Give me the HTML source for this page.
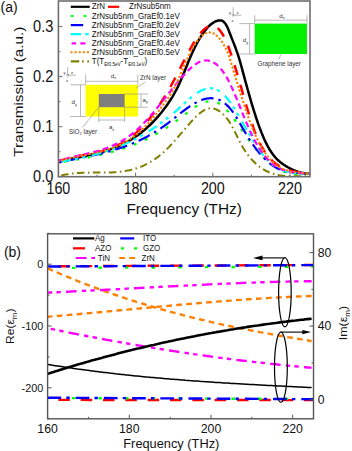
<!DOCTYPE html><html><head><meta charset="utf-8"><style>html,body{margin:0;padding:0;background:#fff;width:352px;height:451px;overflow:hidden;position:relative}</style></head><body><svg width="352" height="451" viewBox="0 0 352 451" style="position:absolute;left:0;top:0">
<rect width="352" height="451" fill="#fff"/>
<defs><clipPath id="ca"><rect x="58.4" y="1.0" width="251.6" height="175.7"/></clipPath>
<clipPath id="cb"><rect x="48" y="233.5" width="265.5" height="185.2"/></clipPath></defs>
<g>
<rect x="85.5" y="84.8" width="52.5" height="31.7" fill="#ffff00"/>
<rect x="98.8" y="94.0" width="25.8" height="13.2" fill="#7f7f7f"/>
<path d="M85.6,84.8 V74.6 M137.8,84.8 V74.6 M85.6,81.3 H137.8" stroke="#8a8a8a" stroke-width="0.6" fill="none"/>
<path d="M85.5,116.5 H70.2 M85.5,84.8 H70.2 M80.5,84.8 V116.5" stroke="#8a8a8a" stroke-width="0.6" fill="none"/>
<path d="M124.6,107.2 H147.8 M124.6,94 H147.8 M141,94 V107.2" stroke="#8a8a8a" stroke-width="0.6" fill="none"/>
<path d="M98.8,107.2 V122 M124.6,107.2 V122 M98.8,120 H124.6" stroke="#8a8a8a" stroke-width="0.6" fill="none"/>
<path d="M145.6,81.9 L135.9,88.2 M82.7,127.3 L99,106.8" stroke="#8a8a8a" stroke-width="0.6" fill="none"/>
<text x="110.8" y="77.6" font-family='"Liberation Sans", sans-serif' font-size="6.2" fill="#333">d<tspan font-size="3.8" dy="1.3">x</tspan></text>
<text x="71.6" y="104.2" font-family='"Liberation Sans", sans-serif' font-size="6.2" fill="#333">d<tspan font-size="3.8" dy="1.3">y</tspan></text>
<text x="142.6" y="101.9" font-family='"Liberation Sans", sans-serif' font-size="6.2" fill="#333">a<tspan font-size="3.8" dy="1.3">y</tspan></text>
<text x="108.9" y="129.4" font-family='"Liberation Sans", sans-serif' font-size="6.2" fill="#333">a<tspan font-size="3.8" dy="1.3">x</tspan></text>
<text x="139.9" y="79.8" font-family='"Liberation Sans", sans-serif' font-size="6.4" fill="#333">ZrN layer</text>
<text x="69" y="133.6" font-family='"Liberation Sans", sans-serif' font-size="6.3" fill="#333">SiO<tspan font-size="4" dy="1.3">2</tspan><tspan dy="-1.3"> layer</tspan></text>
<path d="M67.7,75.2 V67.2 M67.7,75.2 H75.7" stroke="#666" stroke-width="0.5" fill="none"/>
<circle cx="67.7" cy="75.2" r="1.1" stroke="#666" stroke-width="0.4" fill="none"/>
<text x="63.400000000000006" y="74.0" font-family='"Liberation Sans", sans-serif' font-size="4.2" fill="#333">y</text>
<text x="71.0" y="74.0" font-family='"Liberation Sans", sans-serif' font-size="4.2" fill="#333">x</text>
<text x="65.9" y="81.7" font-family='"Liberation Sans", sans-serif' font-size="4.2" fill="#333">z</text>
</g>
<rect x="254.7" y="23.6" width="52.3" height="30.4" fill="#00f000"/>
<path d="M254.7,23.6 V15.1 M307,23.6 V15.1 M254.7,20.2 H307" stroke="#8a8a8a" stroke-width="0.6" fill="none"/>
<path d="M254.7,23.6 H239.4 M254.7,54 H239.4 M249.6,23.6 V54" stroke="#8a8a8a" stroke-width="0.6" fill="none"/>
<path d="M281.1,54.6 L278.6,59.4" stroke="#8a8a8a" stroke-width="0.6" fill="none"/>
<text x="279.3" y="17.6" font-family='"Liberation Sans", sans-serif' font-size="6.2" fill="#333">d<tspan font-size="3.8" dy="1.3">x</tspan></text>
<text x="242.8" y="42.2" font-family='"Liberation Sans", sans-serif' font-size="6.2" fill="#333">d<tspan font-size="3.8" dy="1.3">y</tspan></text>
<text x="257.5" y="66.4" font-family='"Liberation Sans", sans-serif' font-size="6.3" fill="#333">Graphene layer</text>
<path d="M233.2,15.2 V7.199999999999999 M233.2,15.2 H241.2" stroke="#666" stroke-width="0.5" fill="none"/>
<circle cx="233.2" cy="15.2" r="1.1" stroke="#666" stroke-width="0.4" fill="none"/>
<text x="228.89999999999998" y="14.0" font-family='"Liberation Sans", sans-serif' font-size="4.2" fill="#333">y</text>
<text x="236.5" y="14.0" font-family='"Liberation Sans", sans-serif' font-size="4.2" fill="#333">x</text>
<text x="231.39999999999998" y="21.7" font-family='"Liberation Sans", sans-serif' font-size="4.2" fill="#333">z</text>
<g clip-path="url(#ca)" fill="none" stroke-linecap="butt">
<path d="M58.4,161.9 L59.4,161.7 L60.4,161.4 L61.4,161.1 L62.4,160.9 L63.4,160.6 L64.4,160.4 L65.4,160.2 L66.4,159.9 L67.4,159.7 L68.4,159.5 L69.4,159.3 L70.4,159.0 L71.4,158.8 L72.4,158.6 L73.4,158.4 L74.4,158.2 L75.4,158.0 L76.4,157.8 L77.4,157.6 L78.4,157.4 L79.4,157.2 L80.4,157.0 L81.4,156.8 L82.4,156.6 L83.4,156.3 L84.4,156.1 L85.4,155.9 L86.4,155.7 L87.4,155.5 L88.4,155.3 L89.4,155.1 L90.4,154.8 L91.4,154.6 L92.4,154.4 L93.4,154.2 L94.4,153.9 L95.4,153.7 L96.4,153.4 L97.4,153.2 L98.4,152.9 L99.4,152.7 L100.4,152.4 L101.4,152.1 L102.4,151.8 L103.4,151.5 L104.4,151.2 L105.4,150.9 L106.4,150.6 L107.4,150.3 L108.4,150.0 L109.4,149.6 L110.4,149.3 L111.4,148.9 L112.4,148.6 L113.4,148.2 L114.4,147.8 L115.4,147.4 L116.4,147.0 L117.4,146.6 L118.4,146.1 L119.4,145.7 L120.4,145.3 L121.4,144.8 L122.4,144.3 L123.4,143.8 L124.4,143.3 L125.4,142.8 L126.4,142.3 L127.4,141.7 L128.4,141.1 L129.4,140.6 L130.4,140.0 L131.4,139.4 L132.4,138.8 L133.4,138.1 L134.4,137.5 L135.4,136.8 L136.4,136.1 L137.4,135.4 L138.4,134.7 L139.4,133.9 L140.4,133.2 L141.4,132.4 L142.4,131.6 L143.4,130.8 L144.4,130.0 L145.4,129.1 L146.4,128.2 L147.4,127.3 L148.4,126.4 L149.4,125.5 L150.4,124.5 L151.4,123.5 L152.4,122.5 L153.4,121.5 L154.4,120.5 L155.4,119.4 L156.4,118.3 L157.4,117.2 L158.4,116.1 L159.4,114.9 L160.4,113.7 L161.4,112.5 L162.4,111.2 L163.4,109.9 L164.4,108.6 L165.4,107.3 L166.4,105.9 L167.4,104.5 L168.4,103.0 L169.4,101.5 L170.4,100.0 L171.4,98.4 L172.4,96.8 L173.4,95.1 L174.4,93.4 L175.4,91.5 L176.4,89.7 L177.4,87.7 L178.4,85.7 L179.4,83.6 L180.4,81.3 L181.4,79.0 L182.4,76.7 L183.4,74.2 L184.4,71.8 L185.4,69.3 L186.4,66.8 L187.4,64.3 L188.4,61.8 L189.4,59.4 L190.4,57.1 L191.4,54.8 L192.4,52.5 L193.4,50.4 L194.4,48.3 L195.4,46.3 L196.4,44.3 L197.4,42.4 L198.4,40.6 L199.4,38.9 L200.4,37.3 L201.4,35.7 L202.4,34.2 L203.4,32.7 L204.4,31.4 L205.4,30.1 L206.4,28.9 L207.4,27.7 L208.4,26.7 L209.4,25.7 L210.4,24.8 L211.4,24.0 L212.4,23.2 L213.4,22.6 L214.4,22.0 L215.4,21.5 L216.4,21.1 L217.4,20.8 L218.4,20.5 L219.4,20.4 L220.4,20.4 L221.4,20.5 L222.4,20.9 L223.4,21.6 L224.4,22.5 L225.4,23.7 L226.4,25.3 L227.4,27.2 L228.4,29.6 L229.4,32.2 L230.4,34.8 L231.4,37.4 L232.4,39.9 L233.4,42.4 L234.4,45.0 L235.4,47.5 L236.4,50.3 L237.4,53.1 L238.4,56.2 L239.4,59.4 L240.4,62.9 L241.4,66.5 L242.4,70.1 L243.4,73.9 L244.4,77.6 L245.4,81.3 L246.4,84.9 L247.4,88.5 L248.4,92.1 L249.4,95.6 L250.4,99.1 L251.4,102.6 L252.4,105.9 L253.4,109.2 L254.4,112.4 L255.4,115.5 L256.4,118.6 L257.4,121.5 L258.4,124.4 L259.4,127.1 L260.4,129.8 L261.4,132.4 L262.4,134.8 L263.4,137.2 L264.4,139.5 L265.4,141.6 L266.4,143.7 L267.4,145.6 L268.4,147.5 L269.4,149.2 L270.4,150.8 L271.4,152.3 L272.4,153.7 L273.4,155.1 L274.4,156.3 L275.4,157.5 L276.4,158.6 L277.4,159.6 L278.4,160.5 L279.4,161.4 L280.4,162.3 L281.4,163.0 L282.4,163.8 L283.4,164.5 L284.4,165.1 L285.4,165.8 L286.4,166.4 L287.4,167.0 L288.4,167.5 L289.4,168.1 L290.4,168.6 L291.4,169.1 L292.4,169.6 L293.4,170.0 L294.4,170.5 L295.4,170.9 L296.4,171.3 L297.4,171.6 L298.4,172.0 L299.4,172.3 L300.4,172.5 L301.4,172.8 L302.4,173.0 L303.4,173.1 L304.4,173.3 L305.4,173.4 L306.4,173.4 L307.4,173.4 L308.4,173.4 L309.4,173.4" stroke="#000" stroke-width="2.5"/>
<path d="M58.4,161.3 L59.4,161.0 L60.4,160.7 L61.4,160.3 L62.4,160.0 L63.4,159.7 L64.4,159.5 L65.4,159.2 L66.4,158.9 L67.4,158.7 L68.4,158.4 L69.4,158.2 L70.4,157.9 L71.4,157.7 L72.4,157.5 L73.4,157.3 L74.4,157.0 L75.4,156.8 L76.4,156.6 L77.4,156.4 L78.4,156.2 L79.4,156.0 L80.4,155.8 L81.4,155.6 L82.4,155.4 L83.4,155.2 L84.4,155.0 L85.4,154.8 L86.4,154.6 L87.4,154.5 L88.4,154.3 L89.4,154.0 L90.4,153.8 L91.4,153.6 L92.4,153.4 L93.4,153.2 L94.4,153.0 L95.4,152.8 L96.4,152.5 L97.4,152.3 L98.4,152.0 L99.4,151.8 L100.4,151.5 L101.4,151.2 L102.4,151.0 L103.4,150.7 L104.4,150.4 L105.4,150.1 L106.4,149.7 L107.4,149.4 L108.4,149.1 L109.4,148.7 L110.4,148.3 L111.4,147.9 L112.4,147.5 L113.4,147.1 L114.4,146.7 L115.4,146.3 L116.4,145.8 L117.4,145.3 L118.4,144.8 L119.4,144.3 L120.4,143.8 L121.4,143.3 L122.4,142.7 L123.4,142.1 L124.4,141.5 L125.4,140.9 L126.4,140.3 L127.4,139.6 L128.4,138.9 L129.4,138.2 L130.4,137.5 L131.4,136.7 L132.4,135.9 L133.4,135.1 L134.4,134.3 L135.4,133.5 L136.4,132.6 L137.4,131.7 L138.4,130.7 L139.4,129.8 L140.4,128.8 L141.4,127.8 L142.4,126.7 L143.4,125.7 L144.4,124.6 L145.4,123.5 L146.4,122.3 L147.4,121.1 L148.4,119.9 L149.4,118.7 L150.4,117.4 L151.4,116.1 L152.4,114.8 L153.4,113.5 L154.4,112.1 L155.4,110.7 L156.4,109.3 L157.4,107.9 L158.4,106.4 L159.4,104.9 L160.4,103.4 L161.4,101.8 L162.4,100.2 L163.4,98.6 L164.4,97.0 L165.4,95.4 L166.4,93.7 L167.4,92.0 L168.4,90.3 L169.4,88.5 L170.4,86.8 L171.4,85.0 L172.4,83.2 L173.4,81.3 L174.4,79.5 L175.4,77.6 L176.4,75.7 L177.4,73.7 L178.4,71.8 L179.4,69.8 L180.4,67.9 L181.4,65.9 L182.4,63.9 L183.4,61.9 L184.4,60.0 L185.4,58.0 L186.4,56.1 L187.4,54.2 L188.4,52.3 L189.4,50.5 L190.4,48.6 L191.4,46.9 L192.4,45.1 L193.4,43.4 L194.4,41.8 L195.4,40.2 L196.4,38.7 L197.4,37.2 L198.4,35.8 L199.4,34.5 L200.4,33.3 L201.4,32.1 L202.4,31.0 L203.4,30.0 L204.4,29.1 L205.4,28.3 L206.4,27.7 L207.4,27.1 L208.4,26.6 L209.4,26.2 L210.4,26.0 L211.4,25.9 L212.4,25.9 L213.4,26.0 L214.4,26.3 L215.4,26.7 L216.4,27.3 L217.4,28.0 L218.4,28.9 L219.4,29.9 L220.4,31.1 L221.4,32.5 L222.4,34.0 L223.4,35.7 L224.4,37.6 L225.4,39.6 L226.4,41.9 L227.4,44.3 L228.4,46.8 L229.4,49.5 L230.4,52.2 L231.4,55.2 L232.4,58.2 L233.4,61.3 L234.4,64.5 L235.4,67.8 L236.4,71.1 L237.4,74.5 L238.4,77.9 L239.4,81.4 L240.4,84.9 L241.4,88.4 L242.4,91.9 L243.4,95.4 L244.4,98.9 L245.4,102.4 L246.4,105.8 L247.4,109.1 L248.4,112.5 L249.4,115.7 L250.4,118.9 L251.4,122.0 L252.4,124.9 L253.4,127.8 L254.4,130.6 L255.4,133.2 L256.4,135.7 L257.4,138.0 L258.4,140.3 L259.4,142.4 L260.4,144.4 L261.4,146.3 L262.4,148.0 L263.4,149.7 L264.4,151.3 L265.4,152.8 L266.4,154.2 L267.4,155.5 L268.4,156.7 L269.4,157.9 L270.4,158.9 L271.4,159.9 L272.4,160.9 L273.4,161.8 L274.4,162.6 L275.4,163.4 L276.4,164.1 L277.4,164.8 L278.4,165.5 L279.4,166.1 L280.4,166.7 L281.4,167.2 L282.4,167.7 L283.4,168.2 L284.4,168.6 L285.4,169.0 L286.4,169.4 L287.4,169.7 L288.4,170.1 L289.4,170.4 L290.4,170.7 L291.4,170.9 L292.4,171.2 L293.4,171.4 L294.4,171.6 L295.4,171.8 L296.4,172.0 L297.4,172.1 L298.4,172.3 L299.4,172.4 L300.4,172.6 L301.4,172.7 L302.4,172.8 L303.4,173.0 L304.4,173.1 L305.4,173.3 L306.4,173.4 L307.4,173.5 L308.4,173.7 L309.4,173.9" stroke="#ff0000" stroke-width="2.5" stroke-dasharray="10.5 10" stroke-dashoffset="2.09"/>
<path d="M58.4,162.8 L59.4,162.6 L60.4,162.4 L61.4,162.2 L62.4,162.1 L63.4,161.9 L64.4,161.7 L65.4,161.5 L66.4,161.4 L67.4,161.2 L68.4,161.0 L69.4,160.8 L70.4,160.7 L71.4,160.5 L72.4,160.3 L73.4,160.2 L74.4,160.0 L75.4,159.8 L76.4,159.6 L77.4,159.4 L78.4,159.3 L79.4,159.1 L80.4,158.9 L81.4,158.7 L82.4,158.5 L83.4,158.4 L84.4,158.2 L85.4,158.0 L86.4,157.8 L87.4,157.6 L88.4,157.4 L89.4,157.2 L90.4,157.0 L91.4,156.8 L92.4,156.6 L93.4,156.4 L94.4,156.2 L95.4,156.0 L96.4,155.7 L97.4,155.5 L98.4,155.3 L99.4,155.1 L100.4,154.8 L101.4,154.6 L102.4,154.4 L103.4,154.1 L104.4,153.9 L105.4,153.7 L106.4,153.4 L107.4,153.2 L108.4,152.9 L109.4,152.6 L110.4,152.4 L111.4,152.1 L112.4,151.8 L113.4,151.5 L114.4,151.3 L115.4,151.0 L116.4,150.7 L117.4,150.4 L118.4,150.1 L119.4,149.8 L120.4,149.5 L121.4,149.1 L122.4,148.8 L123.4,148.5 L124.4,148.2 L125.4,147.8 L126.4,147.5 L127.4,147.1 L128.4,146.8 L129.4,146.4 L130.4,146.0 L131.4,145.7 L132.4,145.3 L133.4,144.9 L134.4,144.5 L135.4,144.1 L136.4,143.7 L137.4,143.3 L138.4,142.8 L139.4,142.4 L140.4,142.0 L141.4,141.5 L142.4,141.1 L143.4,140.6 L144.4,140.1 L145.4,139.7 L146.4,139.2 L147.4,138.7 L148.4,138.2 L149.4,137.7 L150.4,137.2 L151.4,136.7 L152.4,136.1 L153.4,135.6 L154.4,135.1 L155.4,134.5 L156.4,133.9 L157.4,133.4 L158.4,132.8 L159.4,132.2 L160.4,131.6 L161.4,131.0 L162.4,130.4 L163.4,129.7 L164.4,129.1 L165.4,128.5 L166.4,127.8 L167.4,127.1 L168.4,126.5 L169.4,125.8 L170.4,125.1 L171.4,124.4 L172.4,123.7 L173.4,123.0 L174.4,122.3 L175.4,121.6 L176.4,120.8 L177.4,120.1 L178.4,119.4 L179.4,118.6 L180.4,117.9 L181.4,117.1 L182.4,116.4 L183.4,115.6 L184.4,114.9 L185.4,114.1 L186.4,113.3 L187.4,112.6 L188.4,111.8 L189.4,111.1 L190.4,110.3 L191.4,109.6 L192.4,108.9 L193.4,108.2 L194.4,107.5 L195.4,106.9 L196.4,106.2 L197.4,105.6 L198.4,105.0 L199.4,104.5 L200.4,104.0 L201.4,103.5 L202.4,103.0 L203.4,102.6 L204.4,102.3 L205.4,102.0 L206.4,101.7 L207.4,101.5 L208.4,101.3 L209.4,101.2 L210.4,101.2 L211.4,101.2 L212.4,101.2 L213.4,101.4 L214.4,101.6 L215.4,101.8 L216.4,102.2 L217.4,102.6 L218.4,103.1 L219.4,103.7 L220.4,104.3 L221.4,105.0 L222.4,105.8 L223.4,106.7 L224.4,107.6 L225.4,108.6 L226.4,109.6 L227.4,110.7 L228.4,111.8 L229.4,113.0 L230.4,114.2 L231.4,115.5 L232.4,116.8 L233.4,118.1 L234.4,119.5 L235.4,120.8 L236.4,122.2 L237.4,123.7 L238.4,125.1 L239.4,126.5 L240.4,128.0 L241.4,129.4 L242.4,130.9 L243.4,132.4 L244.4,133.8 L245.4,135.2 L246.4,136.7 L247.4,138.1 L248.4,139.4 L249.4,140.8 L250.4,142.1 L251.4,143.4 L252.4,144.7 L253.4,146.0 L254.4,147.2 L255.4,148.4 L256.4,149.6 L257.4,150.7 L258.4,151.9 L259.4,153.0 L260.4,154.0 L261.4,155.1 L262.4,156.1 L263.4,157.1 L264.4,158.0 L265.4,159.0 L266.4,159.9 L267.4,160.8 L268.4,161.6 L269.4,162.5 L270.4,163.3 L271.4,164.0 L272.4,164.8 L273.4,165.5 L274.4,166.2 L275.4,166.9 L276.4,167.5 L277.4,168.1 L278.4,168.7 L279.4,169.3 L280.4,169.8 L281.4,170.3 L282.4,170.8 L283.4,171.3 L284.4,171.7 L285.4,172.1 L286.4,172.4 L287.4,172.8 L288.4,173.1 L289.4,173.4 L290.4,173.6 L291.4,173.9 L292.4,174.1 L293.4,174.3 L294.4,174.4 L295.4,174.5 L296.4,174.6 L297.4,174.7 L298.4,174.7 L299.4,174.7 L300.4,174.7 L301.4,174.7 L302.4,174.6 L303.4,174.5 L304.4,174.3 L305.4,174.2 L306.4,174.0 L307.4,173.8 L308.4,173.5 L309.4,173.3" stroke="#00ff00" stroke-width="2.2" stroke-dasharray="3 9" stroke-dashoffset="6.32"/>
<path d="M58.4,162.5 L59.4,162.3 L60.4,162.1 L61.4,161.8 L62.4,161.6 L63.4,161.4 L64.4,161.2 L65.4,161.0 L66.4,160.8 L67.4,160.6 L68.4,160.4 L69.4,160.2 L70.4,160.0 L71.4,159.8 L72.4,159.6 L73.4,159.4 L74.4,159.2 L75.4,159.0 L76.4,158.8 L77.4,158.6 L78.4,158.4 L79.4,158.2 L80.4,158.0 L81.4,157.8 L82.4,157.6 L83.4,157.4 L84.4,157.2 L85.4,157.0 L86.4,156.7 L87.4,156.5 L88.4,156.3 L89.4,156.1 L90.4,155.9 L91.4,155.7 L92.4,155.5 L93.4,155.3 L94.4,155.0 L95.4,154.8 L96.4,154.6 L97.4,154.3 L98.4,154.1 L99.4,153.9 L100.4,153.6 L101.4,153.4 L102.4,153.2 L103.4,152.9 L104.4,152.7 L105.4,152.4 L106.4,152.1 L107.4,151.9 L108.4,151.6 L109.4,151.3 L110.4,151.1 L111.4,150.8 L112.4,150.5 L113.4,150.2 L114.4,149.9 L115.4,149.6 L116.4,149.3 L117.4,149.0 L118.4,148.7 L119.4,148.3 L120.4,148.0 L121.4,147.7 L122.4,147.3 L123.4,147.0 L124.4,146.6 L125.4,146.3 L126.4,145.9 L127.4,145.5 L128.4,145.1 L129.4,144.8 L130.4,144.4 L131.4,144.0 L132.4,143.6 L133.4,143.1 L134.4,142.7 L135.4,142.3 L136.4,141.8 L137.4,141.4 L138.4,140.9 L139.4,140.5 L140.4,140.0 L141.4,139.5 L142.4,139.0 L143.4,138.5 L144.4,138.0 L145.4,137.5 L146.4,137.0 L147.4,136.4 L148.4,135.9 L149.4,135.3 L150.4,134.8 L151.4,134.2 L152.4,133.6 L153.4,133.0 L154.4,132.4 L155.4,131.8 L156.4,131.2 L157.4,130.5 L158.4,129.9 L159.4,129.2 L160.4,128.6 L161.4,127.9 L162.4,127.2 L163.4,126.5 L164.4,125.8 L165.4,125.0 L166.4,124.3 L167.4,123.6 L168.4,122.8 L169.4,122.0 L170.4,121.2 L171.4,120.5 L172.4,119.7 L173.4,118.9 L174.4,118.1 L175.4,117.3 L176.4,116.5 L177.4,115.7 L178.4,114.9 L179.4,114.1 L180.4,113.3 L181.4,112.5 L182.4,111.7 L183.4,111.0 L184.4,110.2 L185.4,109.5 L186.4,108.7 L187.4,108.0 L188.4,107.3 L189.4,106.6 L190.4,105.9 L191.4,105.3 L192.4,104.7 L193.4,104.0 L194.4,103.5 L195.4,102.9 L196.4,102.4 L197.4,101.8 L198.4,101.4 L199.4,100.9 L200.4,100.5 L201.4,100.1 L202.4,99.7 L203.4,99.4 L204.4,99.1 L205.4,98.9 L206.4,98.7 L207.4,98.5 L208.4,98.4 L209.4,98.3 L210.4,98.2 L211.4,98.2 L212.4,98.3 L213.4,98.4 L214.4,98.5 L215.4,98.7 L216.4,99.0 L217.4,99.3 L218.4,99.6 L219.4,100.0 L220.4,100.5 L221.4,101.0 L222.4,101.6 L223.4,102.3 L224.4,103.0 L225.4,103.8 L226.4,104.7 L227.4,105.6 L228.4,106.6 L229.4,107.7 L230.4,108.9 L231.4,110.1 L232.4,111.4 L233.4,112.8 L234.4,114.3 L235.4,115.8 L236.4,117.4 L237.4,119.1 L238.4,120.7 L239.4,122.5 L240.4,124.2 L241.4,125.9 L242.4,127.7 L243.4,129.4 L244.4,131.1 L245.4,132.8 L246.4,134.5 L247.4,136.1 L248.4,137.7 L249.4,139.3 L250.4,140.8 L251.4,142.3 L252.4,143.8 L253.4,145.2 L254.4,146.6 L255.4,147.9 L256.4,149.3 L257.4,150.5 L258.4,151.8 L259.4,153.0 L260.4,154.2 L261.4,155.3 L262.4,156.4 L263.4,157.5 L264.4,158.5 L265.4,159.5 L266.4,160.4 L267.4,161.3 L268.4,162.2 L269.4,163.0 L270.4,163.8 L271.4,164.6 L272.4,165.3 L273.4,166.0 L274.4,166.7 L275.4,167.3 L276.4,167.8 L277.4,168.4 L278.4,168.8 L279.4,169.3 L280.4,169.7 L281.4,170.1 L282.4,170.5 L283.4,170.8 L284.4,171.1 L285.4,171.3 L286.4,171.6 L287.4,171.8 L288.4,172.0 L289.4,172.2 L290.4,172.3 L291.4,172.5 L292.4,172.6 L293.4,172.7 L294.4,172.8 L295.4,172.9 L296.4,173.0 L297.4,173.0 L298.4,173.1 L299.4,173.2 L300.4,173.2 L301.4,173.3 L302.4,173.3 L303.4,173.4 L304.4,173.4 L305.4,173.5 L306.4,173.5 L307.4,173.6 L308.4,173.7 L309.4,173.8" stroke="#0000ff" stroke-width="2.2" stroke-dasharray="12.5 5 2.5 5" stroke-dashoffset="16.64"/>
<path d="M58.4,161.8 L59.4,161.6 L60.4,161.5 L61.4,161.4 L62.4,161.2 L63.4,161.1 L64.4,160.9 L65.4,160.7 L66.4,160.6 L67.4,160.4 L68.4,160.3 L69.4,160.1 L70.4,159.9 L71.4,159.7 L72.4,159.6 L73.4,159.4 L74.4,159.2 L75.4,159.0 L76.4,158.8 L77.4,158.6 L78.4,158.4 L79.4,158.2 L80.4,158.0 L81.4,157.8 L82.4,157.6 L83.4,157.4 L84.4,157.1 L85.4,156.9 L86.4,156.7 L87.4,156.5 L88.4,156.2 L89.4,156.0 L90.4,155.7 L91.4,155.5 L92.4,155.2 L93.4,155.0 L94.4,154.7 L95.4,154.4 L96.4,154.1 L97.4,153.9 L98.4,153.6 L99.4,153.3 L100.4,153.0 L101.4,152.7 L102.4,152.4 L103.4,152.1 L104.4,151.8 L105.4,151.4 L106.4,151.1 L107.4,150.8 L108.4,150.4 L109.4,150.1 L110.4,149.7 L111.4,149.4 L112.4,149.0 L113.4,148.7 L114.4,148.3 L115.4,147.9 L116.4,147.5 L117.4,147.1 L118.4,146.7 L119.4,146.3 L120.4,145.9 L121.4,145.5 L122.4,145.1 L123.4,144.6 L124.4,144.2 L125.4,143.7 L126.4,143.3 L127.4,142.8 L128.4,142.4 L129.4,141.9 L130.4,141.4 L131.4,140.9 L132.4,140.4 L133.4,139.9 L134.4,139.4 L135.4,138.9 L136.4,138.4 L137.4,137.9 L138.4,137.3 L139.4,136.8 L140.4,136.2 L141.4,135.7 L142.4,135.1 L143.4,134.5 L144.4,133.9 L145.4,133.3 L146.4,132.7 L147.4,132.1 L148.4,131.5 L149.4,130.9 L150.4,130.3 L151.4,129.6 L152.4,129.0 L153.4,128.3 L154.4,127.6 L155.4,127.0 L156.4,126.3 L157.4,125.6 L158.4,124.9 L159.4,124.2 L160.4,123.4 L161.4,122.7 L162.4,122.0 L163.4,121.2 L164.4,120.5 L165.4,119.7 L166.4,118.9 L167.4,118.1 L168.4,117.3 L169.4,116.5 L170.4,115.7 L171.4,114.9 L172.4,114.1 L173.4,113.2 L174.4,112.4 L175.4,111.5 L176.4,110.6 L177.4,109.7 L178.4,108.8 L179.4,107.9 L180.4,107.0 L181.4,106.1 L182.4,105.2 L183.4,104.3 L184.4,103.4 L185.4,102.5 L186.4,101.6 L187.4,100.7 L188.4,99.8 L189.4,98.9 L190.4,98.1 L191.4,97.2 L192.4,96.4 L193.4,95.6 L194.4,94.9 L195.4,94.1 L196.4,93.4 L197.4,92.8 L198.4,92.2 L199.4,91.6 L200.4,91.0 L201.4,90.5 L202.4,90.0 L203.4,89.6 L204.4,89.3 L205.4,88.9 L206.4,88.7 L207.4,88.5 L208.4,88.3 L209.4,88.2 L210.4,88.2 L211.4,88.3 L212.4,88.4 L213.4,88.6 L214.4,88.8 L215.4,89.2 L216.4,89.6 L217.4,90.0 L218.4,90.6 L219.4,91.2 L220.4,91.9 L221.4,92.6 L222.4,93.4 L223.4,94.3 L224.4,95.3 L225.4,96.3 L226.4,97.5 L227.4,98.7 L228.4,99.9 L229.4,101.2 L230.4,102.6 L231.4,104.1 L232.4,105.6 L233.4,107.1 L234.4,108.7 L235.4,110.3 L236.4,112.0 L237.4,113.7 L238.4,115.4 L239.4,117.1 L240.4,118.8 L241.4,120.6 L242.4,122.3 L243.4,124.1 L244.4,125.9 L245.4,127.6 L246.4,129.4 L247.4,131.1 L248.4,132.8 L249.4,134.5 L250.4,136.2 L251.4,137.9 L252.4,139.5 L253.4,141.1 L254.4,142.7 L255.4,144.3 L256.4,145.8 L257.4,147.3 L258.4,148.7 L259.4,150.2 L260.4,151.5 L261.4,152.9 L262.4,154.2 L263.4,155.4 L264.4,156.6 L265.4,157.8 L266.4,158.9 L267.4,159.9 L268.4,160.9 L269.4,161.9 L270.4,162.8 L271.4,163.6 L272.4,164.4 L273.4,165.2 L274.4,165.9 L275.4,166.5 L276.4,167.2 L277.4,167.7 L278.4,168.3 L279.4,168.8 L280.4,169.3 L281.4,169.7 L282.4,170.1 L283.4,170.5 L284.4,170.8 L285.4,171.1 L286.4,171.4 L287.4,171.6 L288.4,171.9 L289.4,172.1 L290.4,172.3 L291.4,172.4 L292.4,172.6 L293.4,172.7 L294.4,172.8 L295.4,172.9 L296.4,173.0 L297.4,173.1 L298.4,173.2 L299.4,173.2 L300.4,173.3 L301.4,173.3 L302.4,173.4 L303.4,173.4 L304.4,173.5 L305.4,173.5 L306.4,173.5 L307.4,173.6 L308.4,173.6 L309.4,173.7" stroke="#00ffff" stroke-width="2.2" stroke-dasharray="9.5 4.2 3.2 4.2 3.2 6.7" stroke-dashoffset="27.96"/>
<path d="M58.4,160.7 L59.4,160.4 L60.4,160.1 L61.4,159.8 L62.4,159.5 L63.4,159.2 L64.4,159.0 L65.4,158.7 L66.4,158.5 L67.4,158.2 L68.4,158.0 L69.4,157.7 L70.4,157.5 L71.4,157.2 L72.4,157.0 L73.4,156.8 L74.4,156.5 L75.4,156.3 L76.4,156.1 L77.4,155.9 L78.4,155.7 L79.4,155.4 L80.4,155.2 L81.4,155.0 L82.4,154.8 L83.4,154.5 L84.4,154.3 L85.4,154.1 L86.4,153.9 L87.4,153.6 L88.4,153.4 L89.4,153.2 L90.4,152.9 L91.4,152.7 L92.4,152.4 L93.4,152.2 L94.4,151.9 L95.4,151.6 L96.4,151.4 L97.4,151.1 L98.4,150.8 L99.4,150.5 L100.4,150.2 L101.4,149.9 L102.4,149.5 L103.4,149.2 L104.4,148.9 L105.4,148.5 L106.4,148.1 L107.4,147.8 L108.4,147.4 L109.4,147.0 L110.4,146.6 L111.4,146.2 L112.4,145.7 L113.4,145.3 L114.4,144.8 L115.4,144.3 L116.4,143.8 L117.4,143.3 L118.4,142.8 L119.4,142.3 L120.4,141.7 L121.4,141.2 L122.4,140.6 L123.4,140.0 L124.4,139.3 L125.4,138.7 L126.4,138.0 L127.4,137.4 L128.4,136.7 L129.4,136.0 L130.4,135.2 L131.4,134.5 L132.4,133.7 L133.4,132.9 L134.4,132.1 L135.4,131.2 L136.4,130.3 L137.4,129.4 L138.4,128.5 L139.4,127.6 L140.4,126.6 L141.4,125.6 L142.4,124.6 L143.4,123.6 L144.4,122.6 L145.4,121.5 L146.4,120.4 L147.4,119.3 L148.4,118.2 L149.4,117.1 L150.4,116.0 L151.4,114.8 L152.4,113.6 L153.4,112.4 L154.4,111.2 L155.4,110.0 L156.4,108.8 L157.4,107.6 L158.4,106.4 L159.4,105.1 L160.4,103.9 L161.4,102.6 L162.4,101.4 L163.4,100.1 L164.4,98.9 L165.4,97.6 L166.4,96.3 L167.4,95.1 L168.4,93.8 L169.4,92.5 L170.4,91.3 L171.4,90.0 L172.4,88.7 L173.4,87.5 L174.4,86.2 L175.4,85.0 L176.4,83.8 L177.4,82.6 L178.4,81.4 L179.4,80.2 L180.4,79.0 L181.4,77.8 L182.4,76.7 L183.4,75.6 L184.4,74.5 L185.4,73.4 L186.4,72.3 L187.4,71.3 L188.4,70.3 L189.4,69.4 L190.4,68.4 L191.4,67.5 L192.4,66.7 L193.4,65.9 L194.4,65.1 L195.4,64.4 L196.4,63.7 L197.4,63.1 L198.4,62.5 L199.4,62.0 L200.4,61.6 L201.4,61.2 L202.4,60.9 L203.4,60.7 L204.4,60.5 L205.4,60.5 L206.4,60.4 L207.4,60.5 L208.4,60.6 L209.4,60.8 L210.4,61.1 L211.4,61.4 L212.4,61.9 L213.4,62.4 L214.4,63.0 L215.4,63.7 L216.4,64.4 L217.4,65.3 L218.4,66.2 L219.4,67.2 L220.4,68.3 L221.4,69.5 L222.4,70.8 L223.4,72.2 L224.4,73.7 L225.4,75.2 L226.4,76.9 L227.4,78.6 L228.4,80.5 L229.4,82.4 L230.4,84.5 L231.4,86.6 L232.4,88.8 L233.4,91.0 L234.4,93.3 L235.4,95.7 L236.4,98.1 L237.4,100.5 L238.4,103.0 L239.4,105.5 L240.4,108.0 L241.4,110.5 L242.4,113.0 L243.4,115.4 L244.4,117.9 L245.4,120.3 L246.4,122.7 L247.4,125.1 L248.4,127.4 L249.4,129.6 L250.4,131.8 L251.4,133.9 L252.4,136.0 L253.4,138.0 L254.4,139.9 L255.4,141.8 L256.4,143.5 L257.4,145.3 L258.4,146.9 L259.4,148.5 L260.4,150.1 L261.4,151.6 L262.4,153.0 L263.4,154.3 L264.4,155.6 L265.4,156.9 L266.4,158.0 L267.4,159.1 L268.4,160.2 L269.4,161.2 L270.4,162.1 L271.4,163.0 L272.4,163.9 L273.4,164.6 L274.4,165.4 L275.4,166.0 L276.4,166.7 L277.4,167.2 L278.4,167.8 L279.4,168.3 L280.4,168.8 L281.4,169.2 L282.4,169.6 L283.4,169.9 L284.4,170.2 L285.4,170.5 L286.4,170.8 L287.4,171.1 L288.4,171.3 L289.4,171.5 L290.4,171.7 L291.4,171.8 L292.4,172.0 L293.4,172.1 L294.4,172.2 L295.4,172.3 L296.4,172.4 L297.4,172.5 L298.4,172.6 L299.4,172.7 L300.4,172.8 L301.4,172.9 L302.4,173.0 L303.4,173.1 L304.4,173.2 L305.4,173.3 L306.4,173.4 L307.4,173.6 L308.4,173.7 L309.4,173.9" stroke="#ff00ff" stroke-width="2.2" stroke-dasharray="6 3.8" stroke-dashoffset="3.27"/>
<path d="M58.4,161.6 L59.4,161.2 L60.4,160.9 L61.4,160.6 L62.4,160.3 L63.4,160.0 L64.4,159.7 L65.4,159.4 L66.4,159.2 L67.4,158.9 L68.4,158.7 L69.4,158.4 L70.4,158.2 L71.4,157.9 L72.4,157.7 L73.4,157.5 L74.4,157.3 L75.4,157.0 L76.4,156.8 L77.4,156.6 L78.4,156.4 L79.4,156.2 L80.4,156.0 L81.4,155.8 L82.4,155.6 L83.4,155.4 L84.4,155.2 L85.4,155.0 L86.4,154.8 L87.4,154.6 L88.4,154.4 L89.4,154.2 L90.4,154.0 L91.4,153.8 L92.4,153.6 L93.4,153.4 L94.4,153.2 L95.4,153.0 L96.4,152.7 L97.4,152.5 L98.4,152.3 L99.4,152.0 L100.4,151.8 L101.4,151.5 L102.4,151.3 L103.4,151.0 L104.4,150.7 L105.4,150.4 L106.4,150.1 L107.4,149.8 L108.4,149.5 L109.4,149.1 L110.4,148.8 L111.4,148.4 L112.4,148.1 L113.4,147.7 L114.4,147.3 L115.4,146.9 L116.4,146.5 L117.4,146.1 L118.4,145.6 L119.4,145.1 L120.4,144.7 L121.4,144.2 L122.4,143.7 L123.4,143.1 L124.4,142.6 L125.4,142.0 L126.4,141.4 L127.4,140.8 L128.4,140.2 L129.4,139.6 L130.4,138.9 L131.4,138.2 L132.4,137.5 L133.4,136.8 L134.4,136.0 L135.4,135.3 L136.4,134.5 L137.4,133.7 L138.4,132.8 L139.4,132.0 L140.4,131.1 L141.4,130.2 L142.4,129.2 L143.4,128.3 L144.4,127.3 L145.4,126.3 L146.4,125.2 L147.4,124.2 L148.4,123.1 L149.4,122.0 L150.4,120.9 L151.4,119.7 L152.4,118.6 L153.4,117.4 L154.4,116.2 L155.4,115.0 L156.4,113.7 L157.4,112.5 L158.4,111.2 L159.4,109.9 L160.4,108.6 L161.4,107.3 L162.4,106.0 L163.4,104.7 L164.4,103.4 L165.4,102.0 L166.4,100.6 L167.4,99.2 L168.4,97.7 L169.4,96.2 L170.4,94.6 L171.4,93.0 L172.4,91.2 L173.4,89.5 L174.4,87.6 L175.4,85.6 L176.4,83.6 L177.4,81.4 L178.4,79.2 L179.4,77.0 L180.4,74.7 L181.4,72.4 L182.4,70.1 L183.4,67.7 L184.4,65.4 L185.4,63.1 L186.4,60.8 L187.4,58.6 L188.4,56.4 L189.4,54.3 L190.4,52.3 L191.4,50.3 L192.4,48.5 L193.4,46.7 L194.4,45.0 L195.4,43.5 L196.4,42.0 L197.4,40.6 L198.4,39.3 L199.4,38.1 L200.4,37.0 L201.4,36.1 L202.4,35.2 L203.4,34.4 L204.4,33.8 L205.4,33.3 L206.4,32.8 L207.4,32.5 L208.4,32.4 L209.4,32.3 L210.4,32.4 L211.4,32.5 L212.4,32.8 L213.4,33.3 L214.4,33.8 L215.4,34.5 L216.4,35.3 L217.4,36.2 L218.4,37.2 L219.4,38.4 L220.4,39.6 L221.4,41.0 L222.4,42.5 L223.4,44.1 L224.4,45.9 L225.4,47.7 L226.4,49.7 L227.4,51.8 L228.4,54.2 L229.4,57.2 L230.4,60.5 L231.4,63.8 L232.4,67.1 L233.4,70.4 L234.4,73.7 L235.4,77.0 L236.4,80.2 L237.4,83.5 L238.4,86.7 L239.4,89.9 L240.4,93.1 L241.4,96.3 L242.4,99.4 L243.4,102.5 L244.4,105.6 L245.4,108.6 L246.4,111.5 L247.4,114.5 L248.4,117.3 L249.4,120.1 L250.4,122.8 L251.4,125.4 L252.4,127.9 L253.4,130.4 L254.4,132.7 L255.4,135.0 L256.4,137.2 L257.4,139.3 L258.4,141.3 L259.4,143.2 L260.4,145.1 L261.4,146.8 L262.4,148.5 L263.4,150.2 L264.4,151.7 L265.4,153.2 L266.4,154.6 L267.4,155.9 L268.4,157.2 L269.4,158.4 L270.4,159.5 L271.4,160.6 L272.4,161.6 L273.4,162.5 L274.4,163.4 L275.4,164.2 L276.4,165.0 L277.4,165.7 L278.4,166.4 L279.4,167.0 L280.4,167.6 L281.4,168.1 L282.4,168.6 L283.4,169.1 L284.4,169.5 L285.4,169.9 L286.4,170.2 L287.4,170.6 L288.4,170.9 L289.4,171.1 L290.4,171.4 L291.4,171.6 L292.4,171.8 L293.4,171.9 L294.4,172.1 L295.4,172.2 L296.4,172.4 L297.4,172.5 L298.4,172.6 L299.4,172.7 L300.4,172.8 L301.4,172.9 L302.4,173.0 L303.4,173.1 L304.4,173.2 L305.4,173.3 L306.4,173.4 L307.4,173.6 L308.4,173.7 L309.4,173.9" stroke="#ff8000" stroke-width="2.3" stroke-dasharray="0.2 3.8" stroke-linecap="round"/>
<path d="M58.4,176.2 L59.4,176.0 L60.4,175.7 L61.4,175.4 L62.4,175.2 L63.4,175.0 L64.4,174.8 L65.4,174.6 L66.4,174.4 L67.4,174.2 L68.4,174.1 L69.4,173.9 L70.4,173.8 L71.4,173.6 L72.4,173.5 L73.4,173.4 L74.4,173.3 L75.4,173.2 L76.4,173.1 L77.4,173.1 L78.4,173.0 L79.4,172.9 L80.4,172.9 L81.4,172.8 L82.4,172.8 L83.4,172.8 L84.4,172.7 L85.4,172.7 L86.4,172.7 L87.4,172.7 L88.4,172.7 L89.4,172.6 L90.4,172.6 L91.4,172.6 L92.4,172.6 L93.4,172.6 L94.4,172.6 L95.4,172.6 L96.4,172.6 L97.4,172.6 L98.4,172.6 L99.4,172.6 L100.4,172.6 L101.4,172.6 L102.4,172.6 L103.4,172.6 L104.4,172.6 L105.4,172.6 L106.4,172.6 L107.4,172.5 L108.4,172.5 L109.4,172.5 L110.4,172.4 L111.4,172.4 L112.4,172.4 L113.4,172.3 L114.4,172.2 L115.4,172.2 L116.4,172.1 L117.4,172.0 L118.4,171.9 L119.4,171.8 L120.4,171.7 L121.4,171.6 L122.4,171.4 L123.4,171.3 L124.4,171.1 L125.4,171.0 L126.4,170.8 L127.4,170.6 L128.4,170.4 L129.4,170.2 L130.4,170.0 L131.4,169.7 L132.4,169.5 L133.4,169.2 L134.4,168.9 L135.4,168.6 L136.4,168.3 L137.4,168.0 L138.4,167.6 L139.4,167.3 L140.4,166.9 L141.4,166.5 L142.4,166.1 L143.4,165.6 L144.4,165.2 L145.4,164.7 L146.4,164.2 L147.4,163.7 L148.4,163.2 L149.4,162.6 L150.4,162.0 L151.4,161.4 L152.4,160.8 L153.4,160.2 L154.4,159.5 L155.4,158.8 L156.4,158.1 L157.4,157.3 L158.4,156.6 L159.4,155.8 L160.4,155.0 L161.4,154.1 L162.4,153.3 L163.4,152.4 L164.4,151.5 L165.4,150.5 L166.4,149.6 L167.4,148.6 L168.4,147.6 L169.4,146.6 L170.4,145.5 L171.4,144.5 L172.4,143.4 L173.4,142.3 L174.4,141.1 L175.4,140.0 L176.4,138.8 L177.4,137.7 L178.4,136.5 L179.4,135.4 L180.4,134.2 L181.4,133.1 L182.4,132.0 L183.4,130.8 L184.4,129.6 L185.4,128.5 L186.4,127.3 L187.4,126.1 L188.4,125.0 L189.4,123.8 L190.4,122.7 L191.4,121.5 L192.4,120.4 L193.4,119.4 L194.4,118.3 L195.4,117.3 L196.4,116.3 L197.4,115.3 L198.4,114.4 L199.4,113.6 L200.4,112.8 L201.4,112.0 L202.4,111.3 L203.4,110.7 L204.4,110.1 L205.4,109.6 L206.4,109.2 L207.4,108.8 L208.4,108.6 L209.4,108.4 L210.4,108.3 L211.4,108.3 L212.4,108.4 L213.4,108.5 L214.4,108.8 L215.4,109.1 L216.4,109.5 L217.4,110.0 L218.4,110.6 L219.4,111.2 L220.4,111.9 L221.4,112.7 L222.4,113.6 L223.4,114.5 L224.4,115.5 L225.4,116.6 L226.4,117.8 L227.4,119.0 L228.4,120.4 L229.4,121.9 L230.4,123.5 L231.4,125.2 L232.4,127.1 L233.4,129.0 L234.4,130.9 L235.4,132.9 L236.4,135.0 L237.4,137.0 L238.4,139.0 L239.4,141.0 L240.4,143.0 L241.4,144.8 L242.4,146.6 L243.4,148.3 L244.4,149.9 L245.4,151.4 L246.4,152.9 L247.4,154.2 L248.4,155.5 L249.4,156.7 L250.4,157.9 L251.4,159.1 L252.4,160.2 L253.4,161.2 L254.4,162.2 L255.4,163.2 L256.4,164.1 L257.4,164.9 L258.4,165.8 L259.4,166.6 L260.4,167.3 L261.4,168.0 L262.4,168.7 L263.4,169.3 L264.4,169.9 L265.4,170.5 L266.4,171.0 L267.4,171.5 L268.4,172.0 L269.4,172.4 L270.4,172.8 L271.4,173.2 L272.4,173.5 L273.4,173.8 L274.4,174.1 L275.4,174.4 L276.4,174.7 L277.4,174.9 L278.4,175.1 L279.4,175.3 L280.4,175.4 L281.4,175.6 L282.4,175.7 L283.4,175.8 L284.4,175.9 L285.4,176.0 L286.4,176.1 L287.4,176.1 L288.4,176.2 L289.4,176.2 L290.4,176.2 L291.4,176.3 L292.4,176.3 L293.4,176.3 L294.4,176.3 L295.4,176.3 L296.4,176.3 L297.4,176.3 L298.4,176.3 L299.4,176.3 L300.4,176.2 L301.4,176.2 L302.4,176.2 L303.4,176.2 L304.4,176.2 L305.4,176.3 L306.4,176.3 L307.4,176.3 L308.4,176.3 L309.4,176.4" stroke="#808000" stroke-width="2" stroke-dasharray="7.5 3.5 1.5 3.5" stroke-dashoffset="13.17"/>
</g>
<rect x="58.4" y="1.0" width="251.6" height="175.7" fill="none" stroke="#6e6e6e" stroke-width="1.6"/>
<path d="M58.4,176.7 v-4 M97.0,176.7 v-2 M135.6,176.7 v-4 M174.2,176.7 v-2 M212.8,176.7 v-4 M251.4,176.7 v-2 M290.0,176.7 v-4 M58.4,176.7 h4 M58.4,151.7 h2 M58.4,126.7 h4 M58.4,101.7 h2 M58.4,76.6 h4 M58.4,51.6 h2 M58.4,26.6 h4" stroke="#6e6e6e" stroke-width="1"/>
<text transform="translate(58.4,194.2) scale(1,1.1)" text-anchor="middle" font-family='"Liberation Sans", sans-serif' font-size="14.3" fill="#111">160</text>
<text transform="translate(135.6,194.2) scale(1,1.1)" text-anchor="middle" font-family='"Liberation Sans", sans-serif' font-size="14.3" fill="#111">180</text>
<text transform="translate(212.8,194.2) scale(1,1.1)" text-anchor="middle" font-family='"Liberation Sans", sans-serif' font-size="14.3" fill="#111">200</text>
<text transform="translate(290.0,194.2) scale(1,1.1)" text-anchor="middle" font-family='"Liberation Sans", sans-serif' font-size="14.3" fill="#111">220</text>
<text transform="translate(53.3,181.6) scale(1.02,1.12)" text-anchor="end" font-family='"Liberation Sans", sans-serif' font-size="14.3" fill="#111">0.0</text>
<text transform="translate(53.3,131.6) scale(1.02,1.12)" text-anchor="end" font-family='"Liberation Sans", sans-serif' font-size="14.3" fill="#111">0.1</text>
<text transform="translate(53.3,81.5) scale(1.02,1.12)" text-anchor="end" font-family='"Liberation Sans", sans-serif' font-size="14.3" fill="#111">0.2</text>
<text transform="translate(53.3,31.5) scale(1.02,1.12)" text-anchor="end" font-family='"Liberation Sans", sans-serif' font-size="14.3" fill="#111">0.3</text>
<text x="184.2" y="214.3" text-anchor="middle" font-family='"Liberation Sans", sans-serif' font-size="15.4" fill="#111">Frequency (THz)</text>
<text transform="translate(22.9,91.7) rotate(-90) scale(1.24,1)" text-anchor="middle" font-family='"Liberation Sans", sans-serif' font-size="12.3" fill="#111">Transmission (a.u.)</text>
<text x="0.5" y="11.9" font-family='"Liberation Sans", sans-serif' font-size="14" fill="#111">(a)</text>
<path d="M70.8,6.8 H89.7" stroke="#000" stroke-width="2.2"/>
<path d="M108,6.8 H119.2" stroke="#ff0000" stroke-width="2.2"/>
<path d="M70.8,16.0 H89.7" stroke="#00ff00" stroke-width="2.2" stroke-dasharray="2.7 10.2"/>
<path d="M70.8,25.1 H89.7" stroke="#0000ff" stroke-width="2.2" stroke-dasharray="12.4 20"/>
<path d="M70.8,34.2 H89.7" stroke="#00ffff" stroke-width="2.2" stroke-dasharray="10.2 4.2 3.5 10"/>
<path d="M71.6,43.3 H89.7" stroke="#ff00ff" stroke-width="2.2" stroke-dasharray="4.5 4.3 5 10"/>
<path d="M70.5,52.3 H89.7" stroke="#ff8000" stroke-width="2.1" stroke-dasharray="2.1 2.0"/>
<path d="M70.8,61.4 H89.7" stroke="#808000" stroke-width="2.2" stroke-dasharray="8.5 2.8 1.6 3.6 1.6 10"/>
<text transform="translate(91.8,9.4) scale(1,1.12)" font-family='"Liberation Sans", sans-serif' font-size="8" fill="#111">ZrN</text>
<text transform="translate(91.8,18.6) scale(1,1.12)" font-family='"Liberation Sans", sans-serif' font-size="8" fill="#111">ZrNsub5nm_GraEf0.1eV</text>
<text transform="translate(91.8,27.7) scale(1,1.12)" font-family='"Liberation Sans", sans-serif' font-size="8" fill="#111">ZrNsub5nm_GraEf0.2eV</text>
<text transform="translate(91.8,36.8) scale(1,1.12)" font-family='"Liberation Sans", sans-serif' font-size="8" fill="#111">ZrNsub5nm_GraEf0.3eV</text>
<text transform="translate(91.8,45.9) scale(1,1.12)" font-family='"Liberation Sans", sans-serif' font-size="8" fill="#111">ZrNsub5nm_GraEf0.4eV</text>
<text transform="translate(91.8,54.9) scale(1,1.12)" font-family='"Liberation Sans", sans-serif' font-size="8" fill="#111">ZrNsub5nm_GraEf0.5eV</text>
<text transform="translate(129,9.4) scale(1,1.12)" font-family='"Liberation Sans", sans-serif' font-size="8" fill="#111">ZrNsub5nm</text>
<text transform="translate(91.8,64.0) scale(1,1.12)" font-family='"Liberation Sans", sans-serif' font-size="8" fill="#111">T(T<tspan font-size="4.6" dy="2">Ef0.5eV</tspan><tspan dy="-2">-T</tspan><tspan font-size="4.6" dy="2">Ef0.1eV</tspan><tspan dy="-2">)</tspan></text>
<g clip-path="url(#cb)" fill="none">
<path d="M48,266.3 L313.5,265.0" stroke="#ff0000" stroke-width="2.4" stroke-dasharray="11.5 10.83" stroke-dashoffset="12"/>
<path d="M48,268.0 L313.5,266.6" stroke="#00ff00" stroke-width="2.4" stroke-dasharray="3.4 23.2" stroke-dashoffset="2.7"/>
<path d="M48,266.5 L313.5,265.1" stroke="#0000ff" stroke-width="2.4" stroke-dasharray="13.7 5.1 3.4 6.0" stroke-dashoffset="0.5"/>
<path d="M48,399.9 L313.5,400.1" stroke="#ff0000" stroke-width="2.4" stroke-dasharray="11.5 10.83" stroke-dashoffset="12"/>
<path d="M48,398.0 L313.5,399.0" stroke="#00ff00" stroke-width="2.4" stroke-dasharray="3.4 23.2" stroke-dashoffset="2.7"/>
<path d="M48,397.7 L313.5,399.2" stroke="#0000ff" stroke-width="2.4" stroke-dasharray="13.7 5.1 3.4 6.0" stroke-dashoffset="0.5"/>
<path d="M47.6,268.3 L49.6,269.2 L51.6,270.1 L53.6,270.9 L55.6,271.8 L57.6,272.7 L59.6,273.5 L61.6,274.4 L63.6,275.2 L65.6,276.1 L67.6,276.9 L69.6,277.7 L71.6,278.5 L73.6,279.4 L75.6,280.2 L77.6,281.0 L79.6,281.8 L81.6,282.5 L83.6,283.3 L85.6,284.1 L87.6,284.9 L89.6,285.6 L91.6,286.4 L93.6,287.1 L95.6,287.9 L97.6,288.6 L99.6,289.4 L101.6,290.1 L103.6,290.8 L105.6,291.5 L107.6,292.2 L109.6,292.9 L111.6,293.6 L113.6,294.3 L115.6,295.0 L117.6,295.7 L119.6,296.4 L121.6,297.0 L123.6,297.7 L125.6,298.4 L127.6,299.0 L129.6,299.7 L131.6,300.3 L133.6,300.9 L135.6,301.6 L137.6,302.2 L139.6,302.8 L141.6,303.4 L143.6,304.0 L145.6,304.7 L147.6,305.3 L149.6,305.9 L151.6,306.4 L153.6,307.0 L155.6,307.6 L157.6,308.2 L159.6,308.8 L161.6,309.3 L163.6,309.9 L165.6,310.5 L167.6,311.0 L169.6,311.6 L171.6,312.1 L173.6,312.6 L175.6,313.2 L177.6,313.7 L179.6,314.2 L181.6,314.7 L183.6,315.3 L185.6,315.8 L187.6,316.3 L189.6,316.8 L191.6,317.3 L193.6,317.8 L195.6,318.3 L197.6,318.8 L199.6,319.3 L201.6,319.7 L203.6,320.2 L205.6,320.7 L207.6,321.1 L209.6,321.6 L211.6,322.1 L213.6,322.5 L215.6,323.0 L217.6,323.4 L219.6,323.9 L221.6,324.3 L223.6,324.8 L225.6,325.2 L227.6,325.6 L229.6,326.0 L231.6,326.5 L233.6,326.9 L235.6,327.3 L237.6,327.7 L239.6,328.1 L241.6,328.5 L243.6,328.9 L245.6,329.3 L247.6,329.7 L249.6,330.1 L251.6,330.5 L253.6,330.9 L255.6,331.3 L257.6,331.7 L259.6,332.1 L261.6,332.4 L263.6,332.8 L265.6,333.2 L267.6,333.5 L269.6,333.9 L271.6,334.3 L273.6,334.6 L275.6,335.0 L277.6,335.3 L279.6,335.7 L281.6,336.0 L283.6,336.4 L285.6,336.7 L287.6,337.1 L289.6,337.4 L291.6,337.7 L293.6,338.1 L295.6,338.4 L297.6,338.7 L299.6,339.1 L301.6,339.4 L303.6,339.7 L305.6,340.0 L307.6,340.3 L309.6,340.7 L311.6,341.0" stroke="#ff8000" stroke-width="2.4" stroke-dasharray="5.7 4.3"/>
<path d="M47.6,316.8 L49.6,316.6 L51.6,316.4 L53.6,316.3 L55.6,316.1 L57.6,315.9 L59.6,315.8 L61.6,315.6 L63.6,315.4 L65.6,315.2 L67.6,315.1 L69.6,314.9 L71.6,314.7 L73.6,314.5 L75.6,314.4 L77.6,314.2 L79.6,314.0 L81.6,313.8 L83.6,313.6 L85.6,313.5 L87.6,313.3 L89.6,313.1 L91.6,312.9 L93.6,312.7 L95.6,312.5 L97.6,312.4 L99.6,312.2 L101.6,312.0 L103.6,311.8 L105.6,311.6 L107.6,311.4 L109.6,311.3 L111.6,311.1 L113.6,310.9 L115.6,310.7 L117.6,310.5 L119.6,310.3 L121.6,310.1 L123.6,309.9 L125.6,309.8 L127.6,309.6 L129.6,309.4 L131.6,309.2 L133.6,309.0 L135.6,308.8 L137.6,308.6 L139.6,308.5 L141.6,308.3 L143.6,308.1 L145.6,307.9 L147.6,307.7 L149.6,307.5 L151.6,307.3 L153.6,307.1 L155.6,307.0 L157.6,306.8 L159.6,306.6 L161.6,306.4 L163.6,306.2 L165.6,306.0 L167.6,305.9 L169.6,305.7 L171.6,305.5 L173.6,305.3 L175.6,305.1 L177.6,305.0 L179.6,304.8 L181.6,304.6 L183.6,304.4 L185.6,304.3 L187.6,304.1 L189.6,303.9 L191.6,303.7 L193.6,303.6 L195.6,303.4 L197.6,303.2 L199.6,303.0 L201.6,302.9 L203.6,302.7 L205.6,302.5 L207.6,302.4 L209.6,302.2 L211.6,302.1 L213.6,301.9 L215.6,301.7 L217.6,301.6 L219.6,301.4 L221.6,301.3 L223.6,301.1 L225.6,300.9 L227.6,300.8 L229.6,300.6 L231.6,300.5 L233.6,300.3 L235.6,300.2 L237.6,300.0 L239.6,299.9 L241.6,299.8 L243.6,299.6 L245.6,299.5 L247.6,299.3 L249.6,299.2 L251.6,299.1 L253.6,298.9 L255.6,298.8 L257.6,298.7 L259.6,298.6 L261.6,298.4 L263.6,298.3 L265.6,298.2 L267.6,298.1 L269.6,297.9 L271.6,297.8 L273.6,297.7 L275.6,297.6 L277.6,297.5 L279.6,297.4 L281.6,297.3 L283.6,297.2 L285.6,297.1 L287.6,297.0 L289.6,296.9 L291.6,296.8 L293.6,296.7 L295.6,296.6 L297.6,296.5 L299.6,296.4 L301.6,296.4 L303.6,296.3 L305.6,296.2 L307.6,296.1 L309.6,296.0 L311.6,296.0" stroke="#ff8000" stroke-width="2.4" stroke-dasharray="5.7 4.3" stroke-dashoffset="0.8"/>
<path d="M47.6,292.6 L49.6,292.5 L51.6,292.5 L53.6,292.4 L55.6,292.3 L57.6,292.2 L59.6,292.1 L61.6,292.0 L63.6,291.9 L65.6,291.8 L67.6,291.7 L69.6,291.6 L71.6,291.5 L73.6,291.4 L75.6,291.3 L77.6,291.2 L79.6,291.1 L81.6,291.0 L83.6,290.9 L85.6,290.8 L87.6,290.7 L89.6,290.6 L91.6,290.5 L93.6,290.4 L95.6,290.3 L97.6,290.2 L99.6,290.1 L101.6,290.0 L103.6,289.9 L105.6,289.8 L107.6,289.7 L109.6,289.6 L111.6,289.5 L113.6,289.4 L115.6,289.3 L117.6,289.2 L119.6,289.1 L121.6,289.0 L123.6,288.9 L125.6,288.7 L127.6,288.6 L129.6,288.5 L131.6,288.4 L133.6,288.3 L135.6,288.2 L137.6,288.1 L139.6,288.0 L141.6,287.9 L143.6,287.8 L145.6,287.7 L147.6,287.6 L149.6,287.5 L151.6,287.3 L153.6,287.2 L155.6,287.1 L157.6,287.0 L159.6,286.9 L161.6,286.8 L163.6,286.7 L165.6,286.6 L167.6,286.5 L169.6,286.4 L171.6,286.3 L173.6,286.2 L175.6,286.1 L177.6,286.0 L179.6,285.9 L181.6,285.8 L183.6,285.7 L185.6,285.6 L187.6,285.5 L189.6,285.4 L191.6,285.3 L193.6,285.2 L195.6,285.1 L197.6,285.0 L199.6,284.9 L201.6,284.8 L203.6,284.7 L205.6,284.6 L207.6,284.5 L209.6,284.4 L211.6,284.3 L213.6,284.2 L215.6,284.1 L217.6,284.0 L219.6,283.9 L221.6,283.8 L223.6,283.7 L225.6,283.7 L227.6,283.6 L229.6,283.5 L231.6,283.4 L233.6,283.3 L235.6,283.2 L237.6,283.2 L239.6,283.1 L241.6,283.0 L243.6,282.9 L245.6,282.8 L247.6,282.8 L249.6,282.7 L251.6,282.6 L253.6,282.6 L255.6,282.5 L257.6,282.4 L259.6,282.4 L261.6,282.3 L263.6,282.2 L265.6,282.2 L267.6,282.1 L269.6,282.0 L271.6,282.0 L273.6,281.9 L275.6,281.9 L277.6,281.8 L279.6,281.8 L281.6,281.7 L283.6,281.7 L285.6,281.6 L287.6,281.6 L289.6,281.5 L291.6,281.5 L293.6,281.5 L295.6,281.4 L297.6,281.4 L299.6,281.3 L301.6,281.3 L303.6,281.3 L305.6,281.3 L307.6,281.2 L309.6,281.2 L311.6,281.2" stroke="#ff00ff" stroke-width="2.4" stroke-dasharray="10.5 5.2 4.4 4.3 4.4 5.2" stroke-dashoffset="15.5"/>
<path d="M47.6,328.1 L49.6,328.6 L51.6,329.0 L53.6,329.4 L55.6,329.8 L57.6,330.2 L59.6,330.6 L61.6,331.0 L63.6,331.5 L65.6,331.9 L67.6,332.3 L69.6,332.7 L71.6,333.1 L73.6,333.5 L75.6,333.9 L77.6,334.3 L79.6,334.6 L81.6,335.0 L83.6,335.4 L85.6,335.8 L87.6,336.2 L89.6,336.6 L91.6,337.0 L93.6,337.3 L95.6,337.7 L97.6,338.1 L99.6,338.5 L101.6,338.8 L103.6,339.2 L105.6,339.6 L107.6,340.0 L109.6,340.3 L111.6,340.7 L113.6,341.1 L115.6,341.4 L117.6,341.8 L119.6,342.1 L121.6,342.5 L123.6,342.8 L125.6,343.2 L127.6,343.5 L129.6,343.9 L131.6,344.2 L133.6,344.6 L135.6,344.9 L137.6,345.3 L139.6,345.6 L141.6,345.9 L143.6,346.3 L145.6,346.6 L147.6,346.9 L149.6,347.3 L151.6,347.6 L153.6,347.9 L155.6,348.3 L157.6,348.6 L159.6,348.9 L161.6,349.2 L163.6,349.5 L165.6,349.8 L167.6,350.2 L169.6,350.5 L171.6,350.8 L173.6,351.1 L175.6,351.4 L177.6,351.7 L179.6,352.0 L181.6,352.3 L183.6,352.6 L185.6,352.9 L187.6,353.2 L189.6,353.5 L191.6,353.8 L193.6,354.1 L195.6,354.4 L197.6,354.6 L199.6,354.9 L201.6,355.2 L203.6,355.5 L205.6,355.8 L207.6,356.0 L209.6,356.3 L211.6,356.6 L213.6,356.9 L215.6,357.1 L217.6,357.4 L219.6,357.7 L221.6,357.9 L223.6,358.2 L225.6,358.5 L227.6,358.7 L229.6,359.0 L231.6,359.2 L233.6,359.5 L235.6,359.7 L237.6,360.0 L239.6,360.2 L241.6,360.5 L243.6,360.7 L245.6,360.9 L247.6,361.2 L249.6,361.4 L251.6,361.7 L253.6,361.9 L255.6,362.1 L257.6,362.4 L259.6,362.6 L261.6,362.8 L263.6,363.0 L265.6,363.2 L267.6,363.5 L269.6,363.7 L271.6,363.9 L273.6,364.1 L275.6,364.3 L277.6,364.5 L279.6,364.7 L281.6,365.0 L283.6,365.2 L285.6,365.4 L287.6,365.6 L289.6,365.8 L291.6,366.0 L293.6,366.2 L295.6,366.3 L297.6,366.5 L299.6,366.7 L301.6,366.9 L303.6,367.1 L305.6,367.3 L307.6,367.5 L309.6,367.6 L311.6,367.8" stroke="#ff00ff" stroke-width="2.4" stroke-dasharray="10.5 5.2 4.4 4.3 4.4 5.2" stroke-dashoffset="12.5"/>
<path d="M47.6,373.8 L49.6,373.2 L51.6,372.5 L53.6,371.9 L55.6,371.3 L57.6,370.7 L59.6,370.0 L61.6,369.4 L63.6,368.8 L65.6,368.2 L67.6,367.6 L69.6,367.0 L71.6,366.4 L73.6,365.8 L75.6,365.2 L77.6,364.6 L79.6,364.1 L81.6,363.5 L83.6,362.9 L85.6,362.3 L87.6,361.8 L89.6,361.2 L91.6,360.6 L93.6,360.1 L95.6,359.5 L97.6,359.0 L99.6,358.4 L101.6,357.9 L103.6,357.3 L105.6,356.8 L107.6,356.3 L109.6,355.7 L111.6,355.2 L113.6,354.7 L115.6,354.2 L117.6,353.6 L119.6,353.1 L121.6,352.6 L123.6,352.1 L125.6,351.6 L127.6,351.1 L129.6,350.6 L131.6,350.1 L133.6,349.6 L135.6,349.1 L137.6,348.6 L139.6,348.2 L141.6,347.7 L143.6,347.2 L145.6,346.7 L147.6,346.3 L149.6,345.8 L151.6,345.3 L153.6,344.9 L155.6,344.4 L157.6,344.0 L159.6,343.5 L161.6,343.1 L163.6,342.6 L165.6,342.2 L167.6,341.8 L169.6,341.3 L171.6,340.9 L173.6,340.5 L175.6,340.0 L177.6,339.6 L179.6,339.2 L181.6,338.8 L183.6,338.4 L185.6,338.0 L187.6,337.6 L189.6,337.2 L191.6,336.8 L193.6,336.4 L195.6,336.0 L197.6,335.6 L199.6,335.2 L201.6,334.8 L203.6,334.5 L205.6,334.1 L207.6,333.7 L209.6,333.3 L211.6,333.0 L213.6,332.6 L215.6,332.3 L217.6,331.9 L219.6,331.6 L221.6,331.2 L223.6,330.9 L225.6,330.5 L227.6,330.2 L229.6,329.8 L231.6,329.5 L233.6,329.2 L235.6,328.8 L237.6,328.5 L239.6,328.2 L241.6,327.9 L243.6,327.6 L245.6,327.3 L247.6,326.9 L249.6,326.6 L251.6,326.3 L253.6,326.0 L255.6,325.7 L257.6,325.5 L259.6,325.2 L261.6,324.9 L263.6,324.6 L265.6,324.3 L267.6,324.0 L269.6,323.8 L271.6,323.5 L273.6,323.2 L275.6,323.0 L277.6,322.7 L279.6,322.4 L281.6,322.2 L283.6,321.9 L285.6,321.7 L287.6,321.4 L289.6,321.2 L291.6,320.9 L293.6,320.7 L295.6,320.5 L297.6,320.2 L299.6,320.0 L301.6,319.8 L303.6,319.6 L305.6,319.3 L307.6,319.1 L309.6,318.9 L311.6,318.7" stroke="#000" stroke-width="2.6"/>
<path d="M47.6,364.4 L49.6,364.7 L51.6,365.1 L53.6,365.4 L55.6,365.7 L57.6,366.0 L59.6,366.3 L61.6,366.6 L63.6,366.9 L65.6,367.2 L67.6,367.5 L69.6,367.8 L71.6,368.1 L73.6,368.4 L75.6,368.7 L77.6,369.0 L79.6,369.2 L81.6,369.5 L83.6,369.8 L85.6,370.1 L87.6,370.3 L89.6,370.6 L91.6,370.9 L93.6,371.1 L95.6,371.4 L97.6,371.6 L99.6,371.9 L101.6,372.1 L103.6,372.4 L105.6,372.6 L107.6,372.8 L109.6,373.1 L111.6,373.3 L113.6,373.5 L115.6,373.8 L117.6,374.0 L119.6,374.2 L121.6,374.4 L123.6,374.6 L125.6,374.9 L127.6,375.1 L129.6,375.3 L131.6,375.5 L133.6,375.7 L135.6,375.9 L137.6,376.1 L139.6,376.3 L141.6,376.5 L143.6,376.7 L145.6,376.9 L147.6,377.1 L149.6,377.2 L151.6,377.4 L153.6,377.6 L155.6,377.8 L157.6,378.0 L159.6,378.1 L161.6,378.3 L163.6,378.5 L165.6,378.7 L167.6,378.8 L169.6,379.0 L171.6,379.2 L173.6,379.3 L175.6,379.5 L177.6,379.6 L179.6,379.8 L181.6,380.0 L183.6,380.1 L185.6,380.3 L187.6,380.4 L189.6,380.6 L191.6,380.7 L193.6,380.9 L195.6,381.0 L197.6,381.1 L199.6,381.3 L201.6,381.4 L203.6,381.6 L205.6,381.7 L207.6,381.8 L209.6,382.0 L211.6,382.1 L213.6,382.2 L215.6,382.4 L217.6,382.5 L219.6,382.6 L221.6,382.7 L223.6,382.9 L225.6,383.0 L227.6,383.1 L229.6,383.2 L231.6,383.4 L233.6,383.5 L235.6,383.6 L237.6,383.7 L239.6,383.8 L241.6,384.0 L243.6,384.1 L245.6,384.2 L247.6,384.3 L249.6,384.4 L251.6,384.5 L253.6,384.6 L255.6,384.7 L257.6,384.8 L259.6,385.0 L261.6,385.1 L263.6,385.2 L265.6,385.3 L267.6,385.4 L269.6,385.5 L271.6,385.6 L273.6,385.7 L275.6,385.8 L277.6,385.9 L279.6,386.0 L281.6,386.1 L283.6,386.2 L285.6,386.3 L287.6,386.4 L289.6,386.5 L291.6,386.6 L293.6,386.7 L295.6,386.8 L297.6,386.9 L299.6,387.0 L301.6,387.1 L303.6,387.2 L305.6,387.3 L307.6,387.4 L309.6,387.5 L311.6,387.6" stroke="#000" stroke-width="1.5"/>
</g>
<ellipse cx="284.9" cy="292.3" rx="6.3" ry="34.6" fill="none" stroke="#000" stroke-width="1.2"/>
<ellipse cx="280.9" cy="367.2" rx="6.4" ry="35.1" fill="none" stroke="#000" stroke-width="1.2"/>
<path d="M284.6,257.9 H261" stroke="#000" stroke-width="1.1"/>
<path d="M253,257.9 L262.5,255.6 L262.5,260.2 Z" fill="#000"/>
<path d="M280.6,332.1 H303" stroke="#000" stroke-width="1.1"/>
<path d="M311.1,332.1 L302.3,329.9 L302.3,334.3 Z" fill="#000"/>
<rect x="47.6" y="233.8" width="265.9" height="185.0" fill="none" stroke="#555" stroke-width="1.4"/>
<path d="M47.6,418.8 v-4 M88.5,418.8 v-2 M129.3,418.8 v-4 M170.2,418.8 v-2 M211.0,418.8 v-4 M251.8,418.8 v-2 M292.7,418.8 v-4 M47.6,264.2 h4 M47.6,295.1 h2 M47.6,326.0 h4 M47.6,356.9 h2 M47.6,387.8 h4 M47.6,418.7 h2 M47.6,233.3 h2 M313.5,399.7 h-4 M313.5,362.9 h-2 M313.5,326.1 h-4 M313.5,289.4 h-2 M313.5,252.6 h-4" stroke="#555" stroke-width="1"/>
<text x="47.6" y="432.6" text-anchor="middle" font-family='"Liberation Sans", sans-serif' font-size="12.3" fill="#111">160</text>
<text x="129.3" y="432.6" text-anchor="middle" font-family='"Liberation Sans", sans-serif' font-size="12.3" fill="#111">180</text>
<text x="211.0" y="432.6" text-anchor="middle" font-family='"Liberation Sans", sans-serif' font-size="12.3" fill="#111">200</text>
<text x="292.7" y="432.6" text-anchor="middle" font-family='"Liberation Sans", sans-serif' font-size="12.3" fill="#111">220</text>
<text x="43.2" y="268.1" text-anchor="end" font-family='"Liberation Sans", sans-serif' font-size="10.8" fill="#111">0</text>
<text x="43.2" y="329.9" text-anchor="end" font-family='"Liberation Sans", sans-serif' font-size="10.8" fill="#111">-100</text>
<text x="43.2" y="391.7" text-anchor="end" font-family='"Liberation Sans", sans-serif' font-size="10.8" fill="#111">-200</text>
<text x="317.7" y="404.0" font-family='"Liberation Sans", sans-serif' font-size="12.2" fill="#111">0</text>
<text x="317.7" y="330.4" font-family='"Liberation Sans", sans-serif' font-size="12.2" fill="#111">40</text>
<text x="317.7" y="256.9" font-family='"Liberation Sans", sans-serif' font-size="12.2" fill="#111">80</text>
<text x="171.3" y="447.7" text-anchor="middle" font-family='"Liberation Sans", sans-serif' font-size="12.8" fill="#111">Frequency (THz)</text>
<text x="3.9" y="256.6" font-family='"Liberation Sans", sans-serif' font-size="14" fill="#111">(b)</text>
<text transform="translate(14,344) rotate(-90) scale(1.12,1)" font-family='"Liberation Sans", sans-serif' font-size="10.8" fill="#111">Re(ε<tspan font-size="7" dy="3">m</tspan><tspan dy="-3">)</tspan></text>
<text transform="translate(347,340.2) rotate(-90) scale(1.15,1)" font-family='"Liberation Sans", sans-serif' font-size="10.8" fill="#111">Im(ε<tspan font-size="7" dy="3">m</tspan><tspan dy="-3">)</tspan></text>
<path d="M73,238.4 H94.3" stroke="#000" stroke-width="2.2"/>
<path d="M73,248.3 H85" stroke="#ff0000" stroke-width="2.2"/>
<path d="M75.8,258.0 H95" stroke="#ff00ff" stroke-width="2.2" stroke-dasharray="10.7 4.9 3.6 10"/>
<path d="M120.2,238.4 H134.2" stroke="#0000ff" stroke-width="2.2"/>
<path d="M121,248.3 H140" stroke="#00ff00" stroke-width="2.2" stroke-dasharray="3 10"/>
<path d="M119.3,258.0 H139.2" stroke="#ff8000" stroke-width="2.2" stroke-dasharray="5.7 4.3"/>
<text transform="translate(95,241.4) scale(1,1.12)" font-family='"Liberation Sans", sans-serif' font-size="8" fill="#111">Ag</text>
<text transform="translate(95,251.3) scale(1,1.12)" font-family='"Liberation Sans", sans-serif' font-size="8" fill="#111">AZO</text>
<text transform="translate(97.8,261.0) scale(1,1.12)" font-family='"Liberation Sans", sans-serif' font-size="8" fill="#111">TiN</text>
<text transform="translate(143,241.4) scale(1,1.12)" font-family='"Liberation Sans", sans-serif' font-size="8" fill="#111">ITO</text>
<text transform="translate(143,251.3) scale(1,1.12)" font-family='"Liberation Sans", sans-serif' font-size="8" fill="#111">GZO</text>
<text transform="translate(141.5,260.8) scale(1,1.12)" font-family='"Liberation Sans", sans-serif' font-size="8" fill="#111">ZrN</text>
</svg></body></html>
